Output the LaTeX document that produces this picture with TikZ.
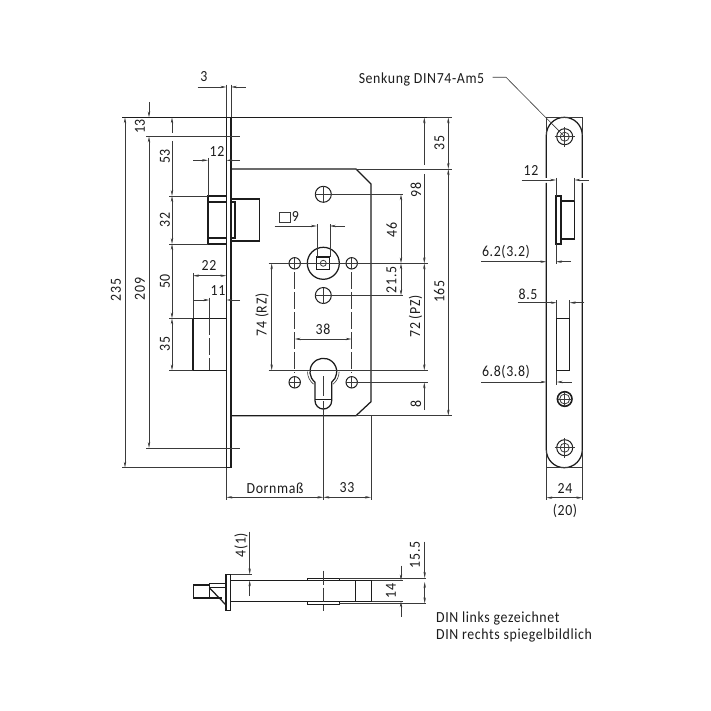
\documentclass[tikz,border=0pt]{standalone}
\usepackage{fontspec}
\setmainfont[FakeStretch=0.9,LetterSpace=4]{Carlito}
\usetikzlibrary{arrows.meta}
\definecolor{DrawInk}{HTML}{1C1C1C}
\definecolor{ThinInk}{HTML}{3A3A3A}
\begin{document}
\begin{tikzpicture}[
    x=1pt, y=-1pt,
    every node/.style={inner sep=0pt, text=DrawInk, font=\fontsize{15.4}{18}\selectfont},
    edge/.style={draw=DrawInk, line width=1.25pt},
    thin line/.style={draw=ThinInk, line width=0.6pt},
    dim/.style={thin line, {Stealth[length=6pt,width=2.4pt]}-{Stealth[length=6pt,width=2.4pt]}},
    dimend/.style={thin line, -{Stealth[length=6pt,width=2.4pt]}},
    chain/.style={thin line, line width=0.8pt, dash pattern=on 17pt off 3pt},
    vtext/.style={rotate=90}
  ]
  \useasboundingbox (0,0) rectangle (711,711);

  % Front view: faceplate and case
  \draw[edge] (226.3,117.3) rectangle (231,467.7);
  \draw[edge] (231,169) -- (356,169) -- (371,184) -- (371,401.7) -- (356,415.7) -- (231,415.7);

  % Upper latch
  \draw[edge] (226,196) -- (208,196) -- (208,244) -- (226,244);
  \draw[edge] (208,202) -- (226,202) (208,238) -- (226,238);
  \draw[edge] (231,199) -- (259.3,199) -- (259.3,241) -- (231,241);
  \draw[edge] (231,202) -- (235,202) -- (235,238) -- (231,238);

  % Lower bolt
  \draw[edge] (226,318.3) -- (193,318.3) -- (193,370.3) -- (226,370.3);
  \draw[chain] (209.3,318.3) -- (209.3,370.3);

  % Spindle
  \coordinate (spindle) at (323.3,263.3);
  \draw[edge] (spindle) circle (16);
  \draw[edge] (316.8,257) rectangle (329.8,269.6);
  \draw[thin line, line width=0.8pt] (spindle) circle (3);

  % Fixing holes
  \foreach \hx/\hy/\hr/\hname in {294.7/263.3/5.7/holeA, 351.7/263.3/5.7/holeB, 323.3/194.3/8/holeC, 323.3/295.5/8/holeD, 294.7/382.3/5.7/holeE, 351.7/382.3/5.7/holeF} {
    \coordinate (\hname) at (\hx,\hy);
    \draw[edge, line width=1pt] (\hname) circle (\hr);
    \draw[thin line] (\hx-\hr,\hy) -- (\hx+\hr,\hy) (\hx,\hy-\hr) -- (\hx,\hy+\hr);
  }

  % Cylinder cut-out
  \draw[edge] (315,382.2) arc[start angle=128.5, end angle=411.5, radius=13.4] -- (331.7,400.7) arc[start angle=0, end angle=180, radius=8.35] -- cycle;
  \draw[edge, line width=0.9pt] (315.4,399.3) -- (331.3,399.3);
  \draw[thin line] (307.5,371.7) arc[start angle=180, end angle=128, radius=15.8];
  \draw[thin line] (339.1,371.7) arc[start angle=0, end angle=52, radius=15.8];
  \draw[thin line] (323.3,376) -- (323.3,396);

  % Centre lines
  \draw[thin line, line width=0.8pt] (268.6,263.3) -- (428,263.3);
  \draw[thin line, line width=0.8pt] (323.3,194.3) -- (403,194.3);
  \draw[thin line, line width=0.8pt] (323.3,295.5) -- (403,295.5);
  \draw[thin line, line width=0.8pt] (268.6,370.3) -- (427.7,370.3);
  \draw[thin line, line width=0.8pt] (351.7,382.3) -- (427.7,382.3);
  \draw[chain] (294.7,272) -- (294.7,373);
  \draw[chain] (351.7,272) -- (351.7,373);
  \draw[thin line, line width=0.9pt] (323.3,401) -- (323.3,500);

  % Extension lines, front view
  \draw[thin line] (226.3,84.7) -- (226.3,117.3) (231,84.7) -- (231,117.3);
  \draw[edge, line width=0.9pt] (122,117.3) -- (226.3,117.3) (231,117.3) -- (427,117.3);
  \draw[thin line] (427,117.3) -- (451.6,117.3);
  \draw[thin line] (146,136.5) -- (240,136.5) (146,448) -- (240,448);
  \draw[thin line] (122,467.7) -- (226.3,467.7);
  \draw[thin line] (169,196) -- (208,196) (169,244) -- (208,244);
  \draw[thin line] (169,318.3) -- (193,318.3) (169,370.3) -- (193,370.3);
  \draw[thin line, line width=0.8pt] (356,169) -- (451.6,169) (356,415.7) -- (451.6,415.7);
  \draw[thin line] (208,158) -- (208,196);
  \draw[thin line] (193,273) -- (193,318.3);
  \draw[thin line] (209.3,297.5) -- (209.3,318.3);
  \draw[thin line] (226.3,467.7) -- (226.3,500) (371,415.7) -- (371,500);
  \draw[thin line] (316.8,224) -- (316.8,257) (329.8,224) -- (329.8,257);

  % Dimensions, left of the plate
  \draw[dimend] (197.5,87) -- (226.3,87);
  \draw[dimend] (245.7,87) -- (231,87);
  \draw[dimend] (149,102) -- (149,117.3);
  \draw[dimend] (149,290) -- (149,136.5);
  \draw[dimend] (149,290) -- (149,448);
  \draw[dim] (125,117.3) -- (125,467.7);
  \draw[dimend] (172,133) -- (172,117.3);
  \draw[dimend] (172,141) -- (172,196);
  \draw[dim] (172,196) -- (172,244);
  \draw[dim] (172,244) -- (172,318.3);
  \draw[dim] (172,318.3) -- (172,370.3);
  \draw[dimend] (193,160.3) -- (208,160.3);
  \draw[dimend] (240,160.3) -- (226.3,160.3);
  \draw[dim] (193,275.7) -- (226.3,275.7);
  \draw[dimend] (193,300) -- (209.3,300);
  \draw[dimend] (240,300) -- (226.3,300);

  % Dimensions, inside the case
  \draw[dimend] (274.7,226) -- (316.8,226);
  \draw[dimend] (345,226) -- (329.8,226);
  \draw[dim] (271.7,263.3) -- (271.7,370.3);
  \draw[dim] (294.7,339) -- (351.7,339);

  % Dimensions, right of the case
  \draw[dim] (401,194.3) -- (401,263.3);
  \draw[dim] (401,263.3) -- (401,295.5);
  \draw[dimend] (424.3,165) -- (424.3,117.3);
  \draw[dimend] (424.3,174) -- (424.3,263.3);
  \draw[dim] (424.3,263.3) -- (424.3,370.3);
  \draw[dimend] (424.3,410) -- (424.3,382.3);
  \draw[dim] (448.3,117.3) -- (448.3,169);
  \draw[dim] (448.3,169) -- (448.3,415.7);
  \draw[dim] (226.3,497.3) -- (323.3,497.3);
  \draw[dim] (323.3,497.3) -- (371,497.3);

  % Labels, front view
  \node (dimthree) at (204,77) {3};
  \node[vtext] (dimthirteen) at (140,126.5) {13};
  \node[vtext] (dimtwonine) at (140,289) {209};
  \node[vtext] (dimtwothree) at (116,290) {235};
  \node[vtext] (dimfifty3) at (165,156.5) {53};
  \node[vtext] (dimthirty2) at (165,220) {32};
  \node[vtext] (dimfifty) at (165,281.5) {50};
  \node[vtext] (dimthirty5) at (165,344) {35};
  \node (dimtwelve) at (217,151.5) {12};
  \node (dimtwotwo) at (209,266) {22};
  \node (dimeleven) at (218,291) {11};
  \draw[thin line, line width=0.8pt] (279.5,212) rectangle (290,222.5);
  \node (dimnine) at (295.5,217) {9};
  \node[vtext] (dimrz) at (262,315) {74 (RZ)};
  \node (dimthirtyeight) at (323,329.5) {38};
  \node[vtext] (dimfortysix) at (391.7,230) {46};
  \node[vtext] (dimtwentyone) at (391.5,280) {21.5};
  \node[vtext] (dimninetyeight) at (416,190) {98};
  \node[vtext] (dimpz) at (415.5,316.5) {72 (PZ)};
  \node[vtext] (dimeight) at (416,404) {8};
  \node[vtext] (dimthirty5b) at (439.3,143) {35};
  \node[vtext] (dimonesix) at (439.3,291.5) {165};
  \node (dimdorn) at (275,488) {Dornmaß};
  \node (dimthirty3) at (347,488) {33};

  % Side view: faceplate
  \coordinate (sinkA) at (564.7,136.7);
  \coordinate (sinkB) at (564.7,399);
  \coordinate (sinkC) at (564.7,447.7);
  \draw[edge] (546.3,178) -- (546.3,135.3) arc[start angle=180, end angle=360, radius=18] -- (582.3,178);
  \draw[edge] (546.3,183) -- (546.3,449.7) arc[start angle=180, end angle=0, radius=18] -- (582.3,183);
  \draw[thin line] (546.3,135) -- (546.3,117.3) -- (582.3,117.3) -- (582.3,135);
  \draw[thin line] (546.3,467.7) -- (582.3,467.7);
  \draw[thin line] (546.3,450) -- (546.3,500) (582.3,450) -- (582.3,500);
  \foreach \sink in {sinkA,sinkC} {
    \draw[edge, line width=1pt] (\sink) circle (8);
    \draw[thin line, line width=0.8pt] (\sink) circle (4.5);
    \draw[thin line] ([xshift=-10pt]\sink) -- ([xshift=10pt]\sink) ([yshift=-10pt]\sink) -- ([yshift=10pt]\sink);
  }
  \draw[edge, line width=1.6pt] (sinkB) circle (7.3);
  \draw[thin line, line width=0.8pt] (sinkB) circle (5);
  \draw[thin line] ([xshift=-7pt]sinkB) -- ([xshift=7pt]sinkB) ([yshift=-7pt]sinkB) -- ([yshift=7pt]sinkB);

  % Side view: latch and slot
  \draw[edge] (556,196) rectangle (561,244);
  \draw[edge] (561,201) -- (574.3,201) -- (574.3,239) -- (561,239);
  \draw[edge] (556.7,318.3) rectangle (569.7,370.7);

  % Leader
  \coordinate (leaderknee) at (506,77.3);
  \draw[thin line] (492.7,77.3) -- (leaderknee) -- (sinkA);

  % Dimensions, side view
  \draw[thin line] (556,178) -- (556,196) (574.3,178) -- (574.3,201) (556,244) -- (556,264);
  \draw[thin line] (556.7,300) -- (556.7,318.3) (569.7,300) -- (569.7,318.3) (556.7,370.7) -- (556.7,385);
  \draw[dimend] (521.7,180) -- (556,180);
  \draw[dimend] (589,180) -- (574.3,180);
  \draw[dimend] (481,261.7) -- (546.3,261.7);
  \draw[dimend] (571,261.7) -- (556,261.7);
  \draw[dimend] (517.7,302.7) -- (556.7,302.7);
  \draw[dimend] (584.3,302.7) -- (569.7,302.7);
  \draw[dimend] (481,382) -- (546.3,382);
  \draw[dimend] (571.7,382) -- (556.7,382);
  \draw[dim] (546.3,497.7) -- (582.3,497.7);

  % Labels, side view
  \node (dimsenkung) at (421.5,79) {Senkung DIN74-Am5};
  \node (dimtwelveb) at (531,171) {12};
  \node (dimsixtwo) at (506,252) {6.2(3.2)};
  \node (dimeightfive) at (528,294) {8.5};
  \node (dimsixeight) at (506,372) {6.8(3.8)};
  \node (dimtwentyfour) at (565,488) {24};
  \node (dimtwenty) at (565,511) {(20)};

  % Top view
  \draw[edge] (226,574.3) rectangle (230.7,610.7);
  \draw[edge] (230.7,580.3) -- (371.7,580.3) -- (371.7,601.3) -- (230.7,601.3);
  \draw[edge] (355.7,580.3) -- (355.7,601.3);
  \draw[edge, line width=1pt] (307.3,580.3) -- (307.3,578) -- (339,578) -- (339,580.3);
  \draw[edge, line width=1pt] (307.3,601.3) -- (307.3,604) -- (339,604) -- (339,601.3);
  \draw[chain, dash pattern=on 14pt off 3pt] (323,570.7) -- (323,611);
  \draw[edge] (209.3,585) -- (193.3,585) -- (193.3,598) -- (222,598);
  \draw[edge] (209.3,583.3) -- (226,583.3);
  \draw[edge] (209.3,587.7) -- (226,587.7);
  \draw[edge] (209.3,583.3) -- (209.3,598);
  \draw[edge] (209.3,587.7) -- (226,605);

  % Dimensions, top view
  \draw[thin line] (230.7,574.3) -- (252,574.3) (339,578) -- (426,578) (339,603.3) -- (426,603.3);
  \draw[thin line] (371.7,580.3) -- (403,580.3) (371.7,601.3) -- (403,601.3);
  \draw[dimend] (249.7,531.7) -- (249.7,574.3);
  \draw[dimend] (249.7,596) -- (249.7,580.3);
  \draw[dimend] (424.7,541.7) -- (424.7,578);
  \draw[dim] (424.7,582) -- (424.7,603.3);
  \draw[dimend] (401,565.7) -- (401,580.3);
  \draw[dimend] (401,616.7) -- (401,601.3);
  \node[vtext] (dimfourone) at (241,545) {4(1)};
  \node[vtext] (dimfifteen) at (415,555) {15.5};
  \node[vtext] (dimfourteen) at (391,591) {14};

  % Note
  \node[anchor=west] (notelinks) at (436,618) {DIN links gezeichnet};
  \node[anchor=west] (noterechts) at (436,635) {DIN rechts spiegelbildlich};
\end{tikzpicture}
\end{document}
